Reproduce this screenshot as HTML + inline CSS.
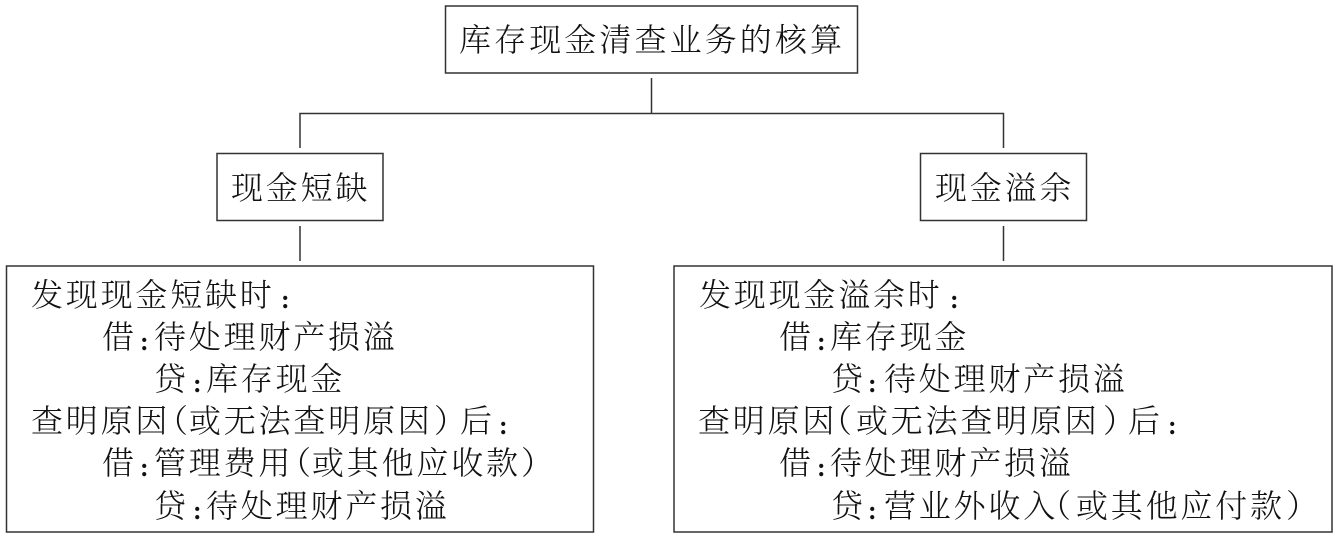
<!DOCTYPE html>
<html><head><meta charset="utf-8">
<style>
html,body{margin:0;padding:0;background:#fff;width:1338px;height:539px;overflow:hidden}
svg{display:block}
text{font-family:"Liberation Serif","Noto Serif CJK SC",serif;font-size:32px;fill:#111;font-weight:300}
.s{letter-spacing:2.8px}
.t{letter-spacing:3.1px}
.c{font-weight:700;font-size:26px}
</style></head><body>
<svg width="1338" height="539" viewBox="0 0 1338 539" xmlns="http://www.w3.org/2000/svg">
<g fill="none" stroke="#333" stroke-width="1.5">
<rect x="445.5" y="6" width="412" height="67"/>
<rect x="217" y="153.500" width="166" height="67"/>
<rect x="920.500" y="153.500" width="166" height="67"/>
<rect x="6.500" y="266" width="587" height="266"/>
<rect x="674" y="266" width="658" height="266"/>
<path d="M651.500 78V113M300 148V113.500H1003.500V148M300 226V261M1003.500 226V261"/>
</g>
<text class="t" x="459" y="51">库存现金清查业务的核算</text>
<text class="s" x="231" y="199">现金短缺</text>
<text class="s" x="935" y="199">现金溢余</text>

<text class="s" x="31" y="306">发现现金短缺时</text><text class="c" x="281" y="308">:</text>
<text x="102" y="348">借</text><text class="c" x="140" y="350">:</text><text class="s" x="154" y="348">待处理财产损溢</text>
<text x="154" y="390">贷</text><text class="c" x="193" y="392">:</text><text class="s" x="206" y="390">库存现金</text>
<text class="s" x="31" y="432">查明原因</text><text x="156" y="432">（</text><text class="s" x="189" y="432">或无法查明原因</text><text x="434" y="432">）</text><text x="460" y="432">后</text><text class="c" x="499" y="434">:</text>
<text x="102" y="474">借</text><text class="c" x="140" y="476">:</text><text class="s" x="154" y="474">管理费用</text><text x="279" y="474">（</text><text class="s" x="312" y="474">或其他应收款</text><text x="521" y="474">）</text>
<text x="154" y="517">贷</text><text class="c" x="193" y="519">:</text><text class="s" x="206" y="517">待处理财产损溢</text>

<text class="s" x="699" y="306">发现现金溢余时</text><text class="c" x="950" y="308">:</text>
<text x="779" y="348">借</text><text class="c" x="817" y="350">:</text><text class="s" x="830" y="348">库存现金</text>
<text x="831" y="390">贷</text><text class="c" x="868" y="392">:</text><text class="s" x="884" y="390">待处理财产损溢</text>
<text class="s" x="698" y="432">查明原因</text><text x="820" y="432">（</text><text class="s" x="856" y="432">或无法查明原因</text><text x="1103" y="432">）</text><text x="1128" y="432">后</text><text class="c" x="1168" y="434">:</text>
<text x="779" y="474">借</text><text class="c" x="817" y="476">:</text><text class="s" x="830" y="474">待处理财产损溢</text>
<text x="831" y="517">贷</text><text class="c" x="868" y="519">:</text><text class="s" x="884" y="517">营业外收入</text><text x="1039" y="517">（</text><text class="s" x="1076" y="517">或其他应付款</text><text x="1286" y="517">）</text>
</svg>
</body></html>
